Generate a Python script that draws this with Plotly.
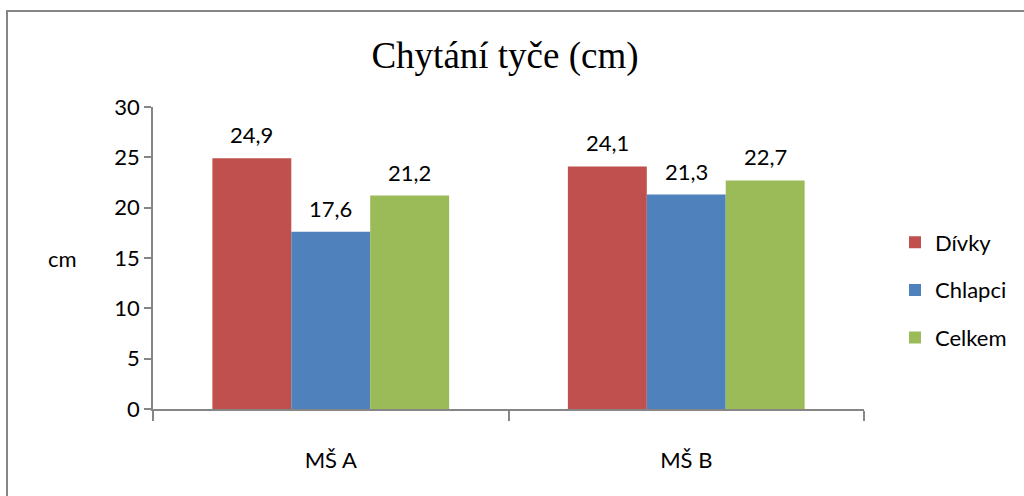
import plotly.graph_objects as go

categories = ["MŠ A", "MŠ B"]
series_names = ["Dívky", "Chlapci", "Celkem"]
divky = [24.9, 24.1]
chlapci = [17.6, 21.3]
celkem = [21.2, 22.7]
colors = ["#C0504D", "#4F81BD", "#9BBB59"]
y_ticks = [0, 5, 10, 15, 20, 25, 30]

W, H = 1024, 496
L, R, T, B = 153, 160, 107, 87
pw, ph = W - L - R, H - T - B
FONT = "Lato, Carlito, sans-serif"
FS = 22
BARGAP = 0.334

fig = go.Figure()
all_vals = [divky, chlapci, celkem]
for name, vals, col in zip(series_names, all_vals, colors):
    fig.add_trace(go.Bar(
        x=categories, y=vals, name=name, marker=dict(color=col, line=dict(width=0)),
        legendgroup=name,
    ))

# data labels via axis coordinates
n = len(series_names)
bw = (1 - BARGAP) / n
for si, vals in enumerate(all_vals):
    for ci, v in enumerate(vals):
        fig.add_annotation(
            x=ci + (si - (n - 1) / 2) * bw, y=v, xref="x", yref="y",
            text=f"{v:.1f}".replace(".", ","), showarrow=False,
            yanchor="bottom", yshift=8, font=dict(family=FONT, size=FS, color="#000000"),
        )

fig.update_layout(
    width=W, height=H,
    margin=dict(l=L, r=R, t=T, b=B, autoexpand=False),
    paper_bgcolor="white", plot_bgcolor="white",
    barmode="group", bargap=BARGAP, bargroupgap=0,
    separators=", ",
    title=dict(text="Chytání tyče (cm)", x=505 / W, xanchor="center", y=1 - 55 / H, yanchor="middle",
               font=dict(family="Liberation Serif, Times New Roman, serif", size=37, color="#000000")),
    font=dict(family=FONT, size=FS, color="#000000"),
    legend=dict(x=1 + (895 - (W - R)) / pw, xanchor="left", y=0.5 - (290 - (T + ph / 2)) / ph, yanchor="middle",
                font=dict(size=FS), tracegroupgap=16, itemwidth=30, bgcolor="rgba(0,0,0,0)"),
    showlegend=True,
)
fig.update_xaxes(
    type="category", showline=True, linecolor="#868686", linewidth=1.5,
    ticks="outside", tickson="boundaries", ticklen=10, tickcolor="#868686", tickwidth=1.5,
    showgrid=False, tickfont=dict(size=FS), ticklabelstandoff=31,
)
fig.update_yaxes(
    range=[0, 30], tickvals=y_ticks, showline=True, linecolor="#868686", linewidth=1.5,
    ticks="outside", ticklen=7, tickcolor="#868686", tickwidth=1.5, showgrid=False,
    zeroline=False, tickfont=dict(size=FS),
)
fig.add_annotation(text="cm", xref="paper", yref="paper", x=(62 - L) / pw, y=1 - (258 - T) / ph,
                   showarrow=False, xanchor="center", yanchor="middle", font=dict(size=FS))
fig.add_shape(type="rect", xref="paper", yref="paper",
              x0=(7 - L) / pw, x1=(1030 - L) / pw, y0=-(H + 10 - T - ph) / ph, y1=1 + (T - 11) / ph,
              line=dict(color="#868686", width=2), fillcolor="rgba(0,0,0,0)", layer="below")

fig.write_html("out.html", config={"displayModeBar": False},
               post_script="document.body.style.margin='0';document.body.style.overflow='hidden';")
